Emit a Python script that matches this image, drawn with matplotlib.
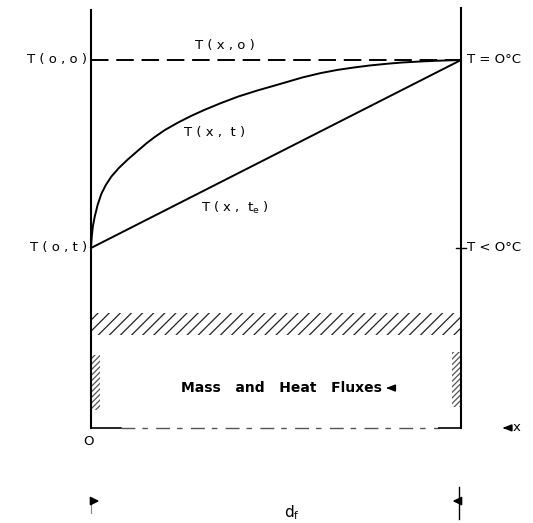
import matplotlib
matplotlib.use("Agg")
import matplotlib.pyplot as plt
from matplotlib.patches import Rectangle

plt.rcParams["font.family"] = ["DejaVu Sans"]
plt.rcParams["hatch.linewidth"] = 0.9

# x is position as a fraction of d_f, T is scaled so T(o,t) = -1 and 0 degC = 0
x_curve = [0.0, 0.002, 0.005, 0.010, 0.018, 0.028, 0.040, 0.055, 0.075, 0.100,
           0.127, 0.150, 0.172, 0.200, 0.235, 0.270, 0.307, 0.350, 0.397, 0.450,
           0.505, 0.573, 0.620, 0.665, 0.710, 0.754, 0.800, 0.843, 0.890, 0.935, 1.0]
T_curve = [-1.0, -0.94, -0.885, -0.834, -0.77, -0.712, -0.665, -0.620, -0.575, -0.528,
           -0.482, -0.443, -0.410, -0.372, -0.333, -0.298, -0.265, -0.230, -0.195, -0.162,
           -0.131, -0.092, -0.070, -0.053, -0.040, -0.029, -0.020, -0.013, -0.008, -0.004, 0.0]
x_final = [0.0, 1.0]
T_final = [-1.0, 0.0]
x_initial = [0.0, 1.0]
T_initial = [0.0, 0.0]

band_T = [-1.463, -1.346]      # hatched layer
strip_left_T = [-1.862, -1.569]
strip_right_T = [-1.846, -1.553]
base_T = -1.957
axis_top = 0.265
dim_T = -2.346

fig = plt.figure(figsize=(5.33, 5.23), dpi=100)
ax = fig.add_axes([0, 0, 1, 1])
ax.set_xlim(-91 / 370, 442 / 370)
ax.set_ylim(-463 / 188, 60 / 188)
ax.axis("off")

# boundaries
ax.plot([0, 0], [base_T, axis_top], color="black", lw=1.5)
ax.plot([1, 1], [base_T, axis_top + 0.01], color="black", lw=1.5)
ax.plot([0.986, 1.014], [-1, -1], color="black", lw=1.0)

# temperature profiles
ax.plot(x_initial, T_initial, color="black", lw=1.4, linestyle=(0, (9, 4)))
ax.plot(x_curve, T_curve, color="black", lw=1.4, solid_joinstyle="round")
ax.plot(x_final, T_final, color="black", lw=1.4)

# hatched layer and wall strips
ax.add_patch(Rectangle((0, band_T[0]), 1, band_T[1] - band_T[0], facecolor="none",
                       edgecolor="#222222", lw=0, hatch="///"))
ax.add_patch(Rectangle((0, strip_left_T[0]), 0.024, strip_left_T[1] - strip_left_T[0],
                       facecolor="none", edgecolor="#555555", lw=0, hatch="//////"))
ax.add_patch(Rectangle((0.976, strip_right_T[0]), 0.024, strip_right_T[1] - strip_right_T[0],
                       facecolor="none", edgecolor="#555555", lw=0, hatch="//////"))

# base line
ax.plot([0, 0.08], [base_T, base_T], color="black", lw=1.2)
ax.plot([0.08, 0.94], [base_T, base_T], color="#555555", lw=1.0, linestyle=(0, (10, 5, 4, 6)))
ax.plot([0.94, 1.0], [base_T, base_T], color="black", lw=1.2)

fs = 9.5
ax.text(-0.011, 0, "T ( o , o )", ha="right", va="center", fontsize=fs)
ax.text(0.362, 0.075, "T ( x , o )", ha="center", va="center", fontsize=fs)
ax.text(0.335, -0.383, "T ( x ,  t )", ha="center", va="center", fontsize=fs)
ax.text(0.389, -0.787, r"T ( x ,  t$_\mathregular{e}$ )", ha="center", va="center", fontsize=fs)
ax.text(-0.011, -1, "T ( o , t )", ha="right", va="center", fontsize=fs)
ax.text(1.016, 0, "T = O°C", ha="left", va="center", fontsize=fs)
ax.text(1.016, -1, "T < O°C", ha="left", va="center", fontsize=fs)
ax.text(0.514, -1.745, "Mass   and   Heat   Fluxes", ha="center", va="center",
        fontsize=10, fontweight="bold")
ax.annotate("", xy=(0.790, -1.745), xytext=(0.816, -1.745),
            arrowprops=dict(arrowstyle="-|>,head_length=0.5,head_width=0.2", color="black", lw=1.2))
ax.text(-0.008, -2.03, "O", ha="center", va="center", fontsize=fs)

# x direction marker
ax.annotate("", xy=(1.105, base_T), xytext=(1.127, base_T),
            arrowprops=dict(arrowstyle="-|>,head_length=0.5,head_width=0.2", color="black", lw=1.2))
ax.text(1.14, base_T, "x", ha="left", va="center", fontsize=fs)

# d_f dimension marks
ax.plot([0, 0], [-2.33, -2.41], color="#888888", lw=0.8)
ax.annotate("", xy=(0.03, dim_T), xytext=(0.0, dim_T),
            arrowprops=dict(arrowstyle="-|>,head_length=0.5,head_width=0.25", color="black", lw=1.2))
ax.plot([0.995, 0.995], [-2.27, -2.44], color="black", lw=1.0)
ax.annotate("", xy=(0.97, dim_T), xytext=(0.995, dim_T),
            arrowprops=dict(arrowstyle="-|>,head_length=0.5,head_width=0.25", color="black", lw=1.2))
ax.text(0.543, -2.41, r"d$_\mathregular{f}$", ha="center", va="center", fontsize=11)

fig.savefig("out.png", dpi=100)
